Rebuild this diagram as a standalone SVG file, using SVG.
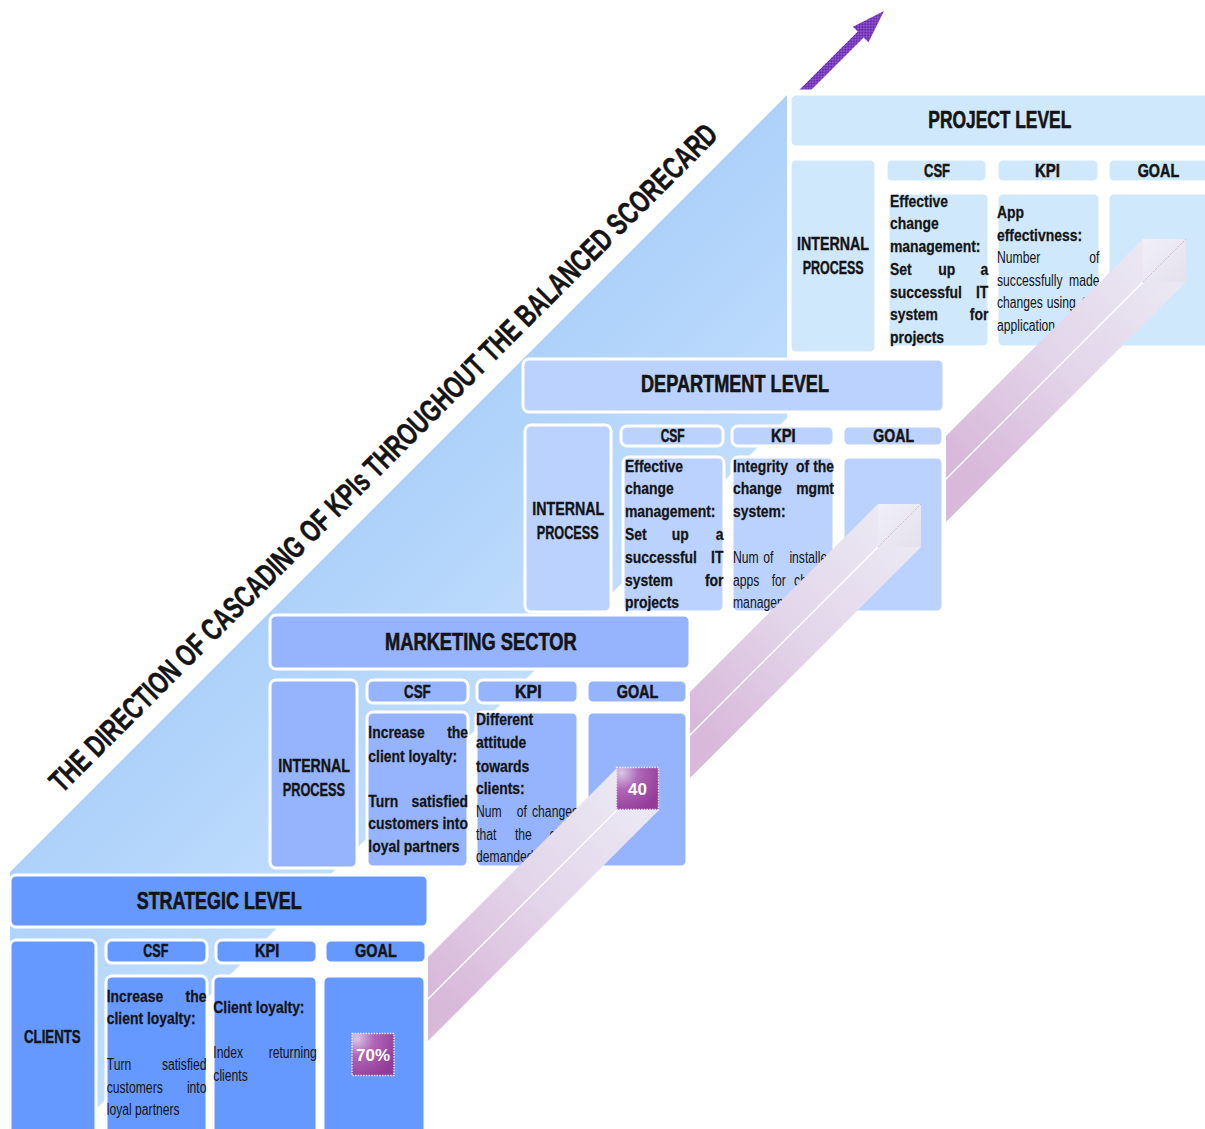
<svg xmlns="http://www.w3.org/2000/svg" width="1205" height="1129" viewBox="0 0 1205 1129">
  <defs>
    <style>
      .box { stroke: #ffffff; stroke-width: 3; }
      .p { fill: #d0e8fc; }
      .d { fill: #bcd2fe; }
      .m { fill: #96b4fd; }
      .s { fill: #6699ff; }
      text { font-family: "Liberation Sans Narrow", "Liberation Sans", Arial, sans-serif; fill: #141414; }
      .h { font-size: 23px; font-weight: bold; stroke: #141414; stroke-width: 0.6; }
      .c { font-size: 18px; font-weight: bold; stroke: #141414; stroke-width: 0.5; }
      .l { font-size: 18px; font-weight: bold; stroke: #141414; stroke-width: 0.4; }
      .b { font-size: 16px; font-weight: bold; stroke: #141414; stroke-width: 0.25; }
      .n { font-size: 16px; font-weight: normal; }
      .title { font-size: 31px; font-weight: bold; stroke: #141414; stroke-width: 0.5; }
      .goal { font-size: 17px; font-weight: bold; fill: #ffffff; }
      .mid { stroke: #ffffff; stroke-width: 1.3; }
      .e { text-anchor: end; }
    </style>
    <linearGradient id="bandFill" gradientUnits="userSpaceOnUse" x1="300" y1="420" x2="620" y2="740">
      <stop offset="0" stop-color="#a3cbf8"/>
      <stop offset="1" stop-color="#cae3ff"/>
    </linearGradient>
    <pattern id="hatch" width="4" height="4" patternUnits="userSpaceOnUse">
      <rect width="4" height="4" fill="#8d52cf"/>
      <path d="M0,0 L4,4 M4,0 L0,4" stroke="#6a2cab" stroke-width="1"/>
    </pattern>
    <radialGradient id="goalBox" cx="0.12" cy="0.12" r="1">
      <stop offset="0" stop-color="#d9c8e8"/>
      <stop offset="0.4" stop-color="#b067b7"/>
      <stop offset="1" stop-color="#943b9a"/>
    </radialGradient>
    <linearGradient id="capFill" x1="0" y1="0" x2="1" y2="1">
      <stop offset="0" stop-color="#f0eff8"/>
      <stop offset="1" stop-color="#e4e1ee"/>
    </linearGradient>
    <!-- face shading of each pillar: light at the cap, pink at the far end -->
    <linearGradient id="faceA" gradientUnits="userSpaceOnUse" x1="640" y1="790" x2="440" y2="990">
      <stop offset="0" stop-color="#ebe9f4"/>
      <stop offset="0.5" stop-color="#e3d6ea"/>
      <stop offset="1" stop-color="#d9b9da"/>
    </linearGradient>
    <linearGradient id="faceB" gradientUnits="userSpaceOnUse" x1="900" y1="525" x2="700" y2="725">
      <stop offset="0" stop-color="#ebe9f4"/>
      <stop offset="0.5" stop-color="#e3d6ea"/>
      <stop offset="1" stop-color="#d9b9da"/>
    </linearGradient>
    <linearGradient id="faceC" gradientUnits="userSpaceOnUse" x1="1165" y1="260" x2="965" y2="460">
      <stop offset="0" stop-color="#ebe9f4"/>
      <stop offset="0.5" stop-color="#e3d6ea"/>
      <stop offset="1" stop-color="#d9b9da"/>
    </linearGradient>
    <clipPath id="clipA"><rect x="428" y="0" width="800" height="1129"/></clipPath>
    <clipPath id="clipB"><rect x="690" y="0" width="600" height="1129"/></clipPath>
    <clipPath id="clipC"><rect x="946" y="0" width="300" height="1129"/></clipPath>
    <clipPath id="clipArrow"><rect x="0" y="0" width="1205" height="89.5"/></clipPath>
  </defs>

  <rect width="1205" height="1129" fill="#ffffff"/>

  <!-- diagonal band behind the levels -->
  <g id="band">
    <polygon points="10,872 787,95 787,418 76,1129 10,1129" fill="url(#bandFill)"/>
  </g>

  <g id="connectors">
    <!-- direction arrow -->
    <g id="direction-arrow" clip-path="url(#clipArrow)">
      <polygon transform="translate(805.8,89.3) rotate(-45)" points="-8,-4.2 77.6,-4.2 77.6,-11 110.6,0 77.6,11 77.6,4.2 -8,4.2" fill="url(#hatch)"/>
    </g>
  </g>

  <!-- PROJECT LEVEL -->
  <g id="level-project">
    <rect class="box p" x="790" y="94" width="430" height="53" rx="6"/>
    <rect class="box p" x="790" y="159" width="86" height="194" rx="6"/>
    <rect class="box p" x="886" y="159" width="101" height="23" rx="6"/>
    <rect class="box p" x="997" y="159" width="102" height="23" rx="6"/>
    <rect class="box p" x="1108" y="159" width="110" height="23" rx="6"/>
    <rect class="box p" x="888" y="193" width="101" height="154" rx="6"/>
    <rect class="box p" x="997" y="193" width="103" height="154" rx="6"/>
    <rect class="box p" x="1108" y="193" width="110" height="154" rx="6"/>
    <text class="h" x="928.3" y="128.3" textLength="143" lengthAdjust="spacingAndGlyphs">PROJECT LEVEL</text>
    <text class="l" x="797" y="250" textLength="72" lengthAdjust="spacingAndGlyphs">INTERNAL</text>
    <text class="l" x="802.7" y="274" textLength="61" lengthAdjust="spacingAndGlyphs">PROCESS</text>
    <text class="c" x="924" y="176.7" textLength="26" lengthAdjust="spacingAndGlyphs">CSF</text>
    <text class="c" x="1035" y="176.7" textLength="25" lengthAdjust="spacingAndGlyphs">KPI</text>
    <text class="c" x="1137.7" y="176.7" textLength="41.5" lengthAdjust="spacingAndGlyphs">GOAL</text>
    <g transform="matrix(0.87 0 0 1 890 0)">
      <text class="b" x="0" y="206.7">Effective</text>
      <text class="b" x="0" y="229.5">change</text>
      <text class="b" x="0" y="252.3">management:</text>
      <text class="b" y="275"><tspan x="0">Set</tspan><tspan x="55.5">up</tspan><tspan class="e" x="113">a</tspan></text>
      <text class="b" y="297.7"><tspan x="0">successful</tspan><tspan class="e" x="113">IT</tspan></text>
      <text class="b" y="320.5"><tspan x="0">system</tspan><tspan class="e" x="113">for</tspan></text>
      <text class="b" x="0" y="343.3">projects</text>
    </g>
    <g transform="matrix(0.87 0 0 1 997 0)">
      <text class="b" x="0" y="218.3">App</text>
      <text class="b" x="0" y="241">effectivness:</text>
    </g>
    <g transform="matrix(0.76 0 0 1 997 0)">
      <text class="n" y="263.5"><tspan x="0">Number</tspan><tspan class="e" x="134.9">of</tspan></text>
      <text class="n" y="286"><tspan x="0">successfully</tspan><tspan class="e" x="134.9">made</tspan></text>
      <text class="n" y="308.5"><tspan x="0">changes</tspan><tspan x="65.4">using</tspan><tspan class="e" x="134.9">the</tspan></text>
      <text class="n" x="0" y="331">application</text>
    </g>
  </g>

  <!-- pillar reaching the project goal -->
  <g id="pillar-project" clip-path="url(#clipC)">
    <polygon points="1143,239 1143,282 883,542 883,499" fill="url(#faceC)"/>
    <polygon points="1143,282 1186,282 926,542 883,542" fill="url(#faceC)"/>
    <line class="mid" x1="1143" y1="282" x2="883" y2="542"/>
    <rect x="1143" y="239" width="43" height="43" fill="url(#capFill)"/>
    <line x1="1143" y1="282" x2="1186" y2="239" stroke="#cf8fcf" stroke-width="0.8" stroke-dasharray="2 1.5" opacity="0.7"/>
  </g>

  <!-- DEPARTMENT LEVEL -->
  <g id="level-department">
    <rect class="box d" x="523" y="359" width="421" height="53" rx="6"/>
    <rect class="box d" x="525" y="425" width="86" height="187" rx="6"/>
    <rect class="box d" x="621" y="426" width="102" height="20" rx="6"/>
    <rect class="box d" x="732" y="426" width="102" height="20" rx="6"/>
    <rect class="box d" x="843" y="426" width="100" height="20" rx="6"/>
    <rect class="box d" x="623" y="457" width="101" height="155" rx="6"/>
    <rect class="box d" x="732" y="457" width="102" height="155" rx="6"/>
    <rect class="box d" x="843" y="457" width="100" height="155" rx="6"/>
    <text class="h" x="641" y="392.3" textLength="188" lengthAdjust="spacingAndGlyphs">DEPARTMENT LEVEL</text>
    <text class="l" x="532.3" y="515" textLength="72" lengthAdjust="spacingAndGlyphs">INTERNAL</text>
    <text class="l" x="536.7" y="539.3" textLength="62" lengthAdjust="spacingAndGlyphs">PROCESS</text>
    <text class="c" x="660.7" y="442.3" textLength="24" lengthAdjust="spacingAndGlyphs">CSF</text>
    <text class="c" x="771" y="442.3" textLength="24.7" lengthAdjust="spacingAndGlyphs">KPI</text>
    <text class="c" x="873.3" y="442.3" textLength="40.7" lengthAdjust="spacingAndGlyphs">GOAL</text>
    <g transform="matrix(0.87 0 0 1 625 0)">
      <text class="b" x="0" y="471.7">Effective</text>
      <text class="b" x="0" y="494.3">change</text>
      <text class="b" x="0" y="517.3">management:</text>
      <text class="b" y="540"><tspan x="0">Set</tspan><tspan x="53.7">up</tspan><tspan class="e" x="113.2">a</tspan></text>
      <text class="b" y="562.7"><tspan x="0">successful</tspan><tspan class="e" x="113.2">IT</tspan></text>
      <text class="b" y="585.7"><tspan x="0">system</tspan><tspan class="e" x="113.2">for</tspan></text>
      <text class="b" x="0" y="608.3">projects</text>
    </g>
    <g transform="matrix(0.87 0 0 1 733 0)">
      <text class="b" y="471.7"><tspan x="0">Integrity</tspan><tspan x="72.4">of</tspan><tspan class="e" x="116.1">the</tspan></text>
      <text class="b" y="494.3"><tspan x="0">change</tspan><tspan class="e" x="116.1">mgmt</tspan></text>
      <text class="b" x="0" y="517.3">system:</text>
    </g>
    <g transform="matrix(0.76 0 0 1 733 0)">
      <text class="n" y="562.7"><tspan x="0">Num</tspan><tspan x="39.9">of</tspan><tspan class="e" x="132.9">installed</tspan></text>
      <text class="n" y="585.7"><tspan x="0">apps</tspan><tspan x="50.9">for</tspan><tspan class="e" x="132.9">change</tspan></text>
      <text class="n" x="0" y="608.3">management</text>
    </g>
  </g>

  <!-- pillar reaching the department goal -->
  <g id="pillar-department" clip-path="url(#clipB)">
    <polygon points="878,504 878,547 618,807 618,764" fill="url(#faceB)"/>
    <polygon points="878,547 921,547 661,807 618,807" fill="url(#faceB)"/>
    <line class="mid" x1="878" y1="547" x2="618" y2="807"/>
    <rect x="878" y="504" width="43" height="43" fill="url(#capFill)"/>
    <line x1="878" y1="547" x2="921" y2="504" stroke="#cf8fcf" stroke-width="0.8" stroke-dasharray="2 1.5" opacity="0.7"/>
  </g>

  <!-- MARKETING SECTOR -->
  <g id="level-marketing">
    <rect class="box m" x="270" y="615" width="420" height="54" rx="6"/>
    <rect class="box m" x="270" y="680" width="87" height="188" rx="6"/>
    <rect class="box m" x="367" y="680" width="101" height="23" rx="6"/>
    <rect class="box m" x="477" y="680" width="101" height="23" rx="6"/>
    <rect class="box m" x="587" y="680" width="100" height="23" rx="6"/>
    <rect class="box m" x="367" y="712" width="101" height="155" rx="6"/>
    <rect class="box m" x="476" y="712" width="102" height="155" rx="6"/>
    <rect class="box m" x="587" y="712" width="100" height="155" rx="6"/>
    <text class="h" x="385" y="650" textLength="191.7" lengthAdjust="spacingAndGlyphs">MARKETING SECTOR</text>
    <text class="l" x="278.3" y="771.7" textLength="71.7" lengthAdjust="spacingAndGlyphs">INTERNAL</text>
    <text class="l" x="282.7" y="795.7" textLength="62.3" lengthAdjust="spacingAndGlyphs">PROCESS</text>
    <text class="c" x="404" y="698.3" textLength="26.7" lengthAdjust="spacingAndGlyphs">CSF</text>
    <text class="c" x="515" y="698.3" textLength="26.7" lengthAdjust="spacingAndGlyphs">KPI</text>
    <text class="c" x="616.7" y="698.3" textLength="41.6" lengthAdjust="spacingAndGlyphs">GOAL</text>
    <g transform="matrix(0.87 0 0 1 368.3 0)">
      <text class="b" y="738.3"><tspan x="0">Increase</tspan><tspan class="e" x="114.6">the</tspan></text>
      <text class="b" x="0" y="761.7">client loyalty:</text>
      <text class="b" y="806.7"><tspan x="0">Turn</tspan><tspan class="e" x="114.6">satisfied</tspan></text>
      <text class="b" y="829.3"><tspan x="0">customers</tspan><tspan class="e" x="114.6">into</tspan></text>
      <text class="b" x="0" y="851.7">loyal partners</text>
    </g>
    <g transform="matrix(0.87 0 0 1 476 0)">
      <text class="b" x="0" y="725">Different</text>
      <text class="b" x="0" y="748.3">attitude</text>
      <text class="b" x="0" y="771.7">towards</text>
      <text class="b" x="0" y="794.3">clients:</text>
    </g>
    <g transform="matrix(0.76 0 0 1 476 0)">
      <text class="n" y="816.7"><tspan x="0">Num</tspan><tspan x="53.6">of</tspan><tspan class="e" x="134.2">changes</tspan></text>
      <text class="n" y="840"><tspan x="0">that</tspan><tspan x="51.3">the</tspan><tspan class="e" x="134.2">client</tspan></text>
      <text class="n" x="0" y="862.3">demanded</text>
    </g>
  </g>

  <!-- pillar reaching the marketing goal -->
  <g id="pillar-marketing">
    <g clip-path="url(#clipA)">
      <polygon points="617,768 617,810 357,1070 357,1028" fill="url(#faceA)"/>
      <polygon points="617,810 659,810 399,1070 357,1070" fill="url(#faceA)"/>
      <line class="mid" x1="617" y1="810" x2="357" y2="1070"/>
    </g>
    <rect x="616.5" y="767.5" width="42" height="42" fill="url(#goalBox)" stroke="#f4e6f6" stroke-width="1.4" stroke-dasharray="1.5 1.2"/>
    <text class="goal" x="637.5" y="795" text-anchor="middle">40</text>
  </g>

  <!-- STRATEGIC LEVEL -->
  <g id="level-strategic">
    <rect class="box s" x="10" y="875" width="418" height="52" rx="6"/>
    <rect class="box s" x="10" y="940" width="86" height="200" rx="6"/>
    <rect class="box s" x="106" y="940" width="101" height="23" rx="6"/>
    <rect class="box s" x="216" y="940" width="101" height="23" rx="6"/>
    <rect class="box s" x="325" y="940" width="101" height="23" rx="6"/>
    <rect class="box s" x="106" y="976" width="101" height="160" rx="6"/>
    <rect class="box s" x="213" y="976" width="104" height="160" rx="6"/>
    <rect class="box s" x="323" y="976" width="102" height="160" rx="6"/>
    <text class="h" x="136.7" y="909.3" textLength="165" lengthAdjust="spacingAndGlyphs">STRATEGIC LEVEL</text>
    <text class="l" x="24" y="1042.7" textLength="56.7" lengthAdjust="spacingAndGlyphs">CLIENTS</text>
    <text class="c" x="143.3" y="957.3" textLength="25" lengthAdjust="spacingAndGlyphs">CSF</text>
    <text class="c" x="255" y="957.3" textLength="24.3" lengthAdjust="spacingAndGlyphs">KPI</text>
    <text class="c" x="355" y="957.3" textLength="41.7" lengthAdjust="spacingAndGlyphs">GOAL</text>
    <g transform="matrix(0.87 0 0 1 106.7 0)">
      <text class="b" y="1001.7"><tspan x="0">Increase</tspan><tspan class="e" x="114.7">the</tspan></text>
      <text class="b" x="0" y="1024">client loyalty:</text>
    </g>
    <g transform="matrix(0.76 0 0 1 106.7 0)">
      <text class="n" y="1070"><tspan x="0">Turn</tspan><tspan class="e" x="131.3">satisfied</tspan></text>
      <text class="n" y="1092.7"><tspan x="0">customers</tspan><tspan class="e" x="131.3">into</tspan></text>
      <text class="n" x="0" y="1115">loyal partners</text>
    </g>
    <g transform="matrix(0.87 0 0 1 213.3 0)">
      <text class="b" x="0" y="1012.7">Client loyalty:</text>
    </g>
    <g transform="matrix(0.76 0 0 1 213.3 0)">
      <text class="n" y="1058.3"><tspan x="0">Index</tspan><tspan class="e" x="136">returning</tspan></text>
      <text class="n" x="0" y="1080.7">clients</text>
    </g>
    <rect x="352" y="1033.5" width="42" height="42" fill="url(#goalBox)" stroke="#f4e6f6" stroke-width="1.4" stroke-dasharray="1.5 1.2"/>
    <text class="goal" x="373" y="1061" text-anchor="middle">70%</text>
  </g>

  <!-- diagonal caption -->
  <g id="caption">
    <text class="title" transform="translate(62,794) rotate(-45)" textLength="930" lengthAdjust="spacingAndGlyphs">THE DIRECTION OF CASCADING OF KPIs THROUGHOUT THE BALANCED SCORECARD</text>
  </g>
</svg>
